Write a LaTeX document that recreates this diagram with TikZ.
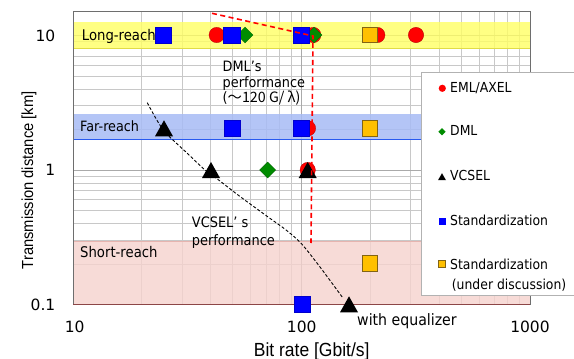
\documentclass[tikz,border=0pt]{standalone}
\usepackage{fontspec}
\setmainfont{DejaVu Sans}[FakeStretch=0.9]
\newfontfamily\tickfont{DejaVu Sans}
\newfontfamily\axisfont{Liberation Sans}[FakeStretch=0.92]
\newfontfamily\cjk{Noto Sans CJK JP}
\newcommand\myfs[1]{\fontsize{#1}{#1}\selectfont}
\definecolor{gridc}{RGB}{200,200,200}
\definecolor{majc}{RGB}{170,170,170}
\definecolor{framec}{RGB}{110,110,110}
\definecolor{yband}{RGB}{255,255,100}
\definecolor{yline}{RGB}{225,220,70}
\definecolor{fband}{RGB}{168,188,245}
\definecolor{fline}{RGB}{40,90,240}
\definecolor{pband}{RGB}{245,210,205}
\definecolor{pline}{RGB}{230,180,175}
\definecolor{axred}{RGB}{140,70,70}
\definecolor{mred}{RGB}{255,0,0}
\definecolor{mgreen}{RGB}{0,140,0}
\definecolor{mblue}{RGB}{0,0,255}
\definecolor{morange}{RGB}{255,192,0}
\definecolor{moedge}{RGB}{130,100,20}
\tikzset{
  gridline/.style={draw=gridc, line width=0.9pt},
  majline/.style={draw=majc, line width=1pt},
  lbl/.style={anchor=base west, inner sep=0pt},
  tick/.style={inner sep=0pt, font=\tickfont\myfs{15.5}},
  redc/.pic={\fill[mred, draw=mred!70!black, line width=0.3pt] (0,0) circle (7.7);},
  grd/.pic={\fill[mgreen, draw=mgreen!70!black, line width=0.3pt] (-8,0)--(0,-8)--(8,0)--(0,8)--cycle;},
  bsq/.pic={\fill[mblue, draw=mblue!80!black, line width=0.3pt] (-8.2,-7.8) rectangle (8.2,7.8);},
  osq/.pic={\fill[morange, draw=moedge, line width=0.6pt] (-7.6,-7.6) rectangle (7.6,7.6);},
  tri/.pic={\fill[black] (-9,8)--(9,8)--(0,-8)--cycle;},
  lredc/.pic={\fill[mred] (0,0) circle (3.6);},
  lgrd/.pic={\fill[mgreen] (-3.6,0)--(0,-3.6)--(3.6,0)--(0,3.6)--cycle;},
  lbsq/.pic={\fill[mblue] (-3.5,-3.5) rectangle (3.5,3.5);},
  losq/.pic={\fill[morange, draw=moedge, line width=0.5pt] (-3.5,-3.5) rectangle (3.5,3.5);},
  ltri/.pic={\fill[black] (-4,3.5)--(4,3.5)--(0,-3.5)--cycle;},
  reddash/.style={draw=mred, line width=1.6pt, dash pattern=on 5pt off 3.5pt},
  blackdash/.style={draw=black, line width=0.9pt, dash pattern=on 3pt off 2pt}
}
\begin{document}
\begin{tikzpicture}[x=1pt,y=-1pt]
\useasboundingbox (0,0) rectangle (574,359);
\fill[white] (0,0) rectangle (574,359);
% grid
\foreach \k in {2,...,9}{
  \draw[gridline] ({73+228.5*log10(\k)},11.5) -- ({73+228.5*log10(\k)},304.5);
  \draw[gridline] ({301.5+228.5*log10(\k)},11.5) -- ({301.5+228.5*log10(\k)},304.5);
  \draw[gridline] (73,{304.5-134.5*log10(\k)}) -- (530,{304.5-134.5*log10(\k)});
  \draw[gridline] (73,{170-134.5*log10(\k)}) -- (530,{170-134.5*log10(\k)});
}
\draw[majline] (301.5,11.5) -- (301.5,304.5);
\draw[majline] (73,170) -- (530,170);
\draw[majline] (73,35.5) -- (530,35.5);
% bands
\fill[yband, fill opacity=0.8] (73,21.7) rectangle (530,48);
\draw[yline, line width=0.8pt] (73,48) -- (530,48);
\fill[fband, fill opacity=0.85] (73,114) rectangle (530,139.3);
\draw[fline, line width=1.2pt] (73,139.3) -- (530,139.3);
\fill[pband, fill opacity=0.8] (73,241) rectangle (530,304.5);
\draw[pline, line width=0.8pt] (73,241) -- (530,241);
% frame
\draw[framec, line width=1pt] (73,304.5) -- (73,11.5) -- (530,11.5) -- (530,304.5);
\draw[axred, line width=1.1pt] (73,304.5) -- (530,304.5);
% markers: circles
\foreach \x/\y in {216.7/35, 313.3/35, 377.3/35, 416/35, 308/128.3, 307.7/170}
  \pic at (\x,\y) {redc};
% diamonds
\foreach \x/\y in {245/35, 314/35, 267.7/170}
  \pic at (\x,\y) {grd};
% squares
\foreach \x/\y in {163.3/35, 231.7/35, 301/35, 232.3/128.3, 301/128.3, 302/304}
  \pic at (\x,\y) {bsq};
\foreach \x/\y in {370/35, 370/128.3, 370/263.3}
  \pic at (\x,\y) {osq};
% triangles
\foreach \x/\y in {164/128.3, 211/170, 307.7/170, 349/304.3}
  \pic at (\x,\y) {tri};
% performance curves
\coordinate (dA) at (212,13.3);
\coordinate (dB) at (313,36);
\coordinate (dC) at (311,243);
\draw[reddash] (dA) -- (dB) -- (dC);
\draw[blackdash] plot[smooth, tension=0.5] coordinates {(147.3,102.7) (163.3,130) (187,153) (205,170) (216.7,178.5) (240,196.5) (266.7,216) (286.7,230.5) (301.7,244) (320,267) (343.3,298.5)};
% band labels
\node[lbl, font=\myfs{14.7}] (long) at (81.7,40.7) {Long-reach};
\node[lbl, font=\myfs{14.2}] (far) at (80,131.7) {Far-reach};
\node[lbl, font=\myfs{14.7}] (short) at (80,257.3) {Short-reach};
% annotations
\node[lbl, font=\myfs{14.3}] (dml1) at (222.5,71.5) {DML’s};
\node[lbl, font=\myfs{14.3}] (dml2) at (222.5,87) {performance};
\node[lbl, font=\myfs{14.3}] (dml3) at (222.5,102.3) {(\cjk{～}120 G/ λ)};
\node[lbl, font=\myfs{14.4}] (vc1) at (191.7,227.3) {VCSEL’ s};
\node[lbl, font=\myfs{14.4}] (vc2) at (191.7,245) {performance};
\node[lbl, font=\myfs{15.7}] (eq) at (357,325) {with equalizer};
% legend
\draw[draw=gray!60, fill=white, line width=0.8pt] (421,72.3) rectangle (580,295);
\pic at (442.3,88.3) {lredc};
\pic at (442,131.7) {lgrd};
\pic at (442,176.7) {ltri};
\pic at (442,221) {lbsq};
\pic at (442,264) {losq};
\node[lbl, font=\myfs{13.8}] (l1) at (450,92.3) {EML/AXEL};
\node[lbl, font=\myfs{13.8}] (l2) at (450,135.7) {DML};
\node[lbl, font=\myfs{13.8}] (l3) at (450,180.7) {VCSEL};
\node[lbl, font=\myfs{13.8}] (l4) at (450,225.7) {Standardization};
\node[lbl, font=\myfs{13.8}] (l5) at (450,269.5) {Standardization};
\node[lbl, font=\myfs{13.8}] (l6) at (451.7,289.5) {(under discussion)};
% ticks
\node[tick, anchor=base east] (y10) at (55.5,41.5) {10};
\node[tick, anchor=base east] (y1) at (55.5,175.7) {1};
\node[tick, anchor=base east] (y01) at (55.5,310.5) {0.1};
\node[tick, anchor=base] (x10) at (74.7,332.5) {10};
\node[tick, anchor=base] (x100) at (301.7,332.5) {100};
\node[tick, anchor=base] (x1000) at (530,332.5) {1000};
% axis titles
\node[inner sep=0pt, anchor=base, font=\axisfont\myfs{19}] (xt) at (311.7,356) {Bit rate [Gbit/s]};
\node[inner sep=0pt, anchor=base, rotate=90, font=\axisfont\myfs{16}] (yt) at (33,180.4) {Transmission distance [km]};
\end{tikzpicture}
\end{document}
